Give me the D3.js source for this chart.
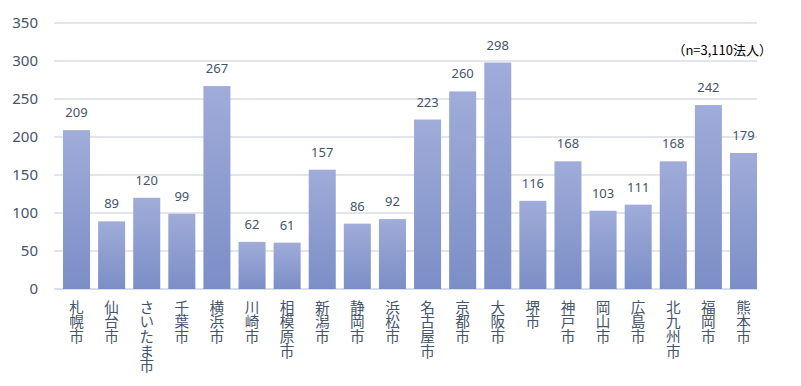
<!DOCTYPE html>
<html>
<head>
<meta charset="utf-8">
<script src="https://cdn.jsdelivr.net/npm/d3@7"></script>
<style>
  body { margin: 0; background: #fff; }
  text { font-family: "Noto Sans CJK JP", "Noto Sans", sans-serif; }
</style>
</head>
<body>
<div id="chart"></div>
<script>
const cities = ["札幌市", "仙台市", "さいたま市", "千葉市", "横浜市", "川崎市", "相模原市", "新潟市", "静岡市", "浜松市",
  "名古屋市", "京都市", "大阪市", "堺市", "神戸市", "岡山市", "広島市", "北九州市", "福岡市", "熊本市"];
const counts = [209, 89, 120, 99, 267, 62, 61, 157, 86, 92, 223, 260, 298, 116, 168, 103, 111, 168, 242, 179];
const yTicks = [0, 50, 100, 150, 200, 250, 300, 350];
const note = "（n=3,110法人）";

const dimension = {
  width: 801,
  height: 386,
  margin: { top: 23, left: 54, bottom: 97, right: 44 }
};
dimension.boundedWidth = dimension.width - dimension.margin.left - dimension.margin.right;
dimension.boundedHeight = dimension.height - dimension.margin.top - dimension.margin.bottom;

const svg = d3.select("#chart")
  .append("svg")
  .attr("width", dimension.width)
  .attr("height", dimension.height);

const defs = svg.append("defs");
const grad = defs.append("linearGradient")
  .attr("id", "barGrad")
  .attr("x1", 0).attr("y1", 0).attr("x2", 0).attr("y2", 1);
grad.append("stop").attr("offset", "0%").attr("stop-color", "#a0acd9");
grad.append("stop").attr("offset", "100%").attr("stop-color", "#7b8ec6");

const bounds = svg.append("g")
  .attr("transform", `translate(${dimension.margin.left},${dimension.margin.top})`);

// bars start a bit right of the grid start, last bar ends at grid end
const xScale = d3.scaleBand()
  .domain(cities)
  .range([9, dimension.boundedWidth])
  .paddingInner(0.23)
  .paddingOuter(0);

const yScale = d3.scaleLinear()
  .domain([0, 350])
  .range([dimension.boundedHeight, 0]);

// grid lines
bounds.append("g")
  .selectAll("line")
  .data(yTicks)
  .enter()
  .append("line")
  .attr("x1", 0)
  .attr("x2", dimension.boundedWidth)
  .attr("y1", d => yScale(d))
  .attr("y2", d => yScale(d))
  .attr("stroke", "#d9dde4")
  .attr("stroke-width", d => d === 0 ? 2 : 1.5);

// y axis labels
const yAxis = bounds.append("g")
  .call(d3.axisLeft(yScale).tickValues(yTicks).tickSize(0).tickPadding(16));
yAxis.select(".domain").remove();
yAxis.selectAll("text")
  .attr("fill", "#44546a")
  .attr("font-size", "15px")
  .style("font-family", "'Noto Sans', sans-serif");

// bars
bounds.append("g")
  .selectAll("rect")
  .data(counts)
  .enter()
  .append("rect")
  .attr("x", (d, i) => xScale(cities[i]))
  .attr("y", d => yScale(d))
  .attr("width", xScale.bandwidth())
  .attr("height", d => dimension.boundedHeight - yScale(d))
  .attr("fill", "url(#barGrad)");

// value labels
bounds.append("g")
  .selectAll("text")
  .data(counts)
  .enter()
  .append("text")
  .attr("x", (d, i) => xScale(cities[i]) + xScale.bandwidth() / 2)
  .attr("y", d => yScale(d) - 13)
  .attr("text-anchor", "middle")
  .attr("fill", "#44546a")
  .attr("font-size", "13px")
  .style("font-family", "'Noto Sans', sans-serif")
  .text(d => d);

// vertical category labels
bounds.append("g")
  .selectAll("text")
  .data(cities)
  .enter()
  .append("text")
  .attr("x", d => xScale(d) + xScale.bandwidth() / 2)
  .attr("y", dimension.boundedHeight + 11)
  .style("writing-mode", "vertical-rl")
  .style("text-orientation", "upright")
  .attr("fill", "#44546a")
  .attr("font-size", "14.6px")
  .text(d => d);

// note
svg.append("text")
  .attr("x", 772)
  .attr("y", 55)
  .attr("text-anchor", "end")
  .attr("fill", "#000")
  .attr("font-size", "13px")
  .text(note);
</script>
</body>
</html>
